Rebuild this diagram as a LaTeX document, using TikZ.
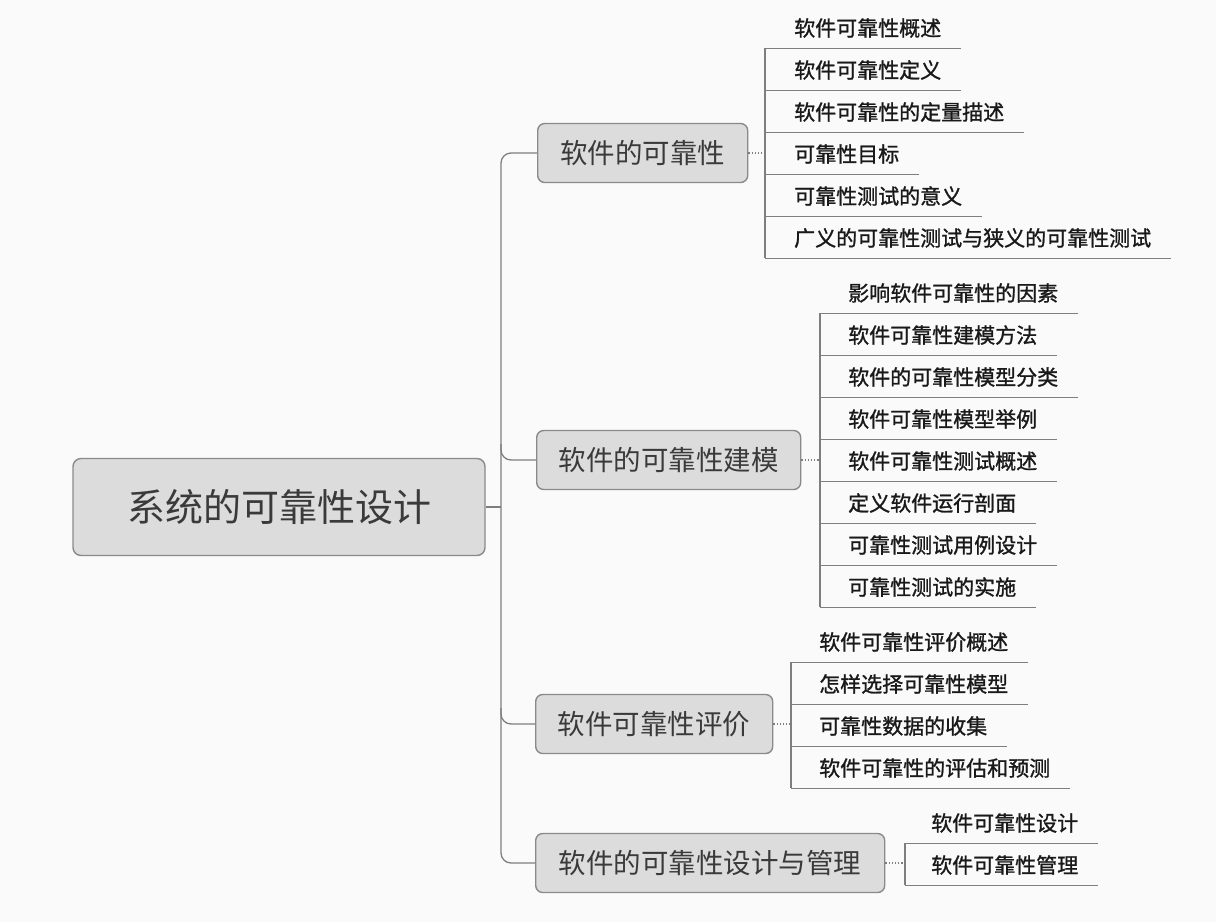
\documentclass[tikz,border=0pt]{standalone}
\usepackage{fontspec}
\newfontfamily\cjk{Noto Sans CJK SC}
\newfontfamily\cjkleaf[FakeBold=1.2]{Noto Sans CJK SC}
\definecolor{boxfill}{HTML}{DCDCDC}
\definecolor{boxdraw}{HTML}{8A8A8A}
\definecolor{linegray}{HTML}{7E7E7E}
\definecolor{txtdark}{HTML}{3A3A3A}
\definecolor{bg}{HTML}{FAFAFA}
\begin{document}
\begin{tikzpicture}[x=1pt,y=-1pt,
  rootbox/.style={draw=boxdraw,fill=boxfill,line width=1.4pt,rounded corners=8pt,minimum width=412pt,minimum height=97pt,inner sep=0pt,font=\cjk\fontsize{38}{40}\selectfont,text=txtdark},
  topic/.style={draw=boxdraw,fill=boxfill,line width=1.4pt,rounded corners=7pt,minimum height=59pt,inner sep=0pt,anchor=west,font=\cjk\fontsize{27.5}{30}\selectfont,text=txtdark},
  leaf/.style={anchor=west,inner sep=0pt,minimum height=40pt,font=\cjkleaf\fontsize{21}{23}\selectfont,text=black!90},
  trunk/.style={draw=linegray,line width=1.3pt,rounded corners=10pt},
  dotlink/.style={draw=linegray,line width=1.2pt,dotted},
  rule/.style={draw=linegray,line width=1.3pt}]
\fill[bg] (0,0) rectangle (1216,922);
\useasboundingbox (0,0) rectangle (1216,922);

% root
\node[rootbox] (root) at (279,507) {系统的可靠性设计};

% topics
\node[topic,minimum width=210pt] (ta) at (537,153) {软件的可靠性};
\node[topic,minimum width=264pt] (tb) at (536,460) {软件的可靠性建模};
\node[topic,minimum width=237pt] (tc) at (535,724) {软件可靠性评价};
\node[topic,minimum width=349pt] (td) at (535,863) {软件的可靠性设计与管理};

% trunk
\coordinate (tx) at (501,0);
\coordinate (bs) at (501,444);
\coordinate (cs) at (501,708);
\draw[rule] (root.east) -- (root.east -| tx);
\draw[trunk] (ta.west) -- (ta.west -| tx) -- (td.west -| tx) -- (td.west);
\draw[trunk] (bs) |- (tb.west);
\draw[trunk] (cs) |- (tc.west);

% list x positions
\coordinate (ax) at (765,0);
\coordinate (bx) at (820,0);
\coordinate (cx) at (791,0);
\coordinate (dx) at (905,0);

% group A
\foreach \t [count=\i] in {软件可靠性概述,软件可靠性定义,软件可靠性的定量描述,可靠性目标,可靠性测试的意义,广义的可靠性测试与狭义的可靠性测试}{
  \node[leaf] (a\i) at (794,{28+42*(\i-1)}) {\t};
  \draw[rule] (a\i.south -| ax) -- ([xshift=20pt]a\i.south east);
}
\draw[rule] (a1.south -| ax) -- (a6.south -| ax);
\draw[dotlink] (ta.east) -- (ta.east -| ax);

% group B
\foreach \t [count=\i] in {影响软件可靠性的因素,软件可靠性建模方法,软件的可靠性模型分类,软件可靠性模型举例,软件可靠性测试概述,定义软件运行剖面,可靠性测试用例设计,可靠性测试的实施}{
  \node[leaf] (b\i) at (848,{293+42*(\i-1)}) {\t};
  \draw[rule] (b\i.south -| bx) -- ([xshift=20pt]b\i.south east);
}
\draw[rule] (b1.south -| bx) -- (b8.south -| bx);
\draw[dotlink] (tb.east) -- (tb.east -| bx);

% group C
\foreach \t [count=\i] in {软件可靠性评价概述,怎样选择可靠性模型,可靠性数据的收集,软件可靠性的评估和预测}{
  \node[leaf] (c\i) at (819,{642+42*(\i-1)}) {\t};
  \draw[rule] (c\i.south -| cx) -- ([xshift=20pt]c\i.south east);
}
\draw[rule] (c1.south -| cx) -- (c4.south -| cx);
\draw[dotlink] (tc.east) -- (tc.east -| cx);

% group D
\foreach \t [count=\i] in {软件可靠性设计,软件可靠性管理}{
  \node[leaf] (d\i) at (931,{823+42*(\i-1)}) {\t};
  \draw[rule] (d\i.south -| dx) -- ([xshift=20pt]d\i.south east);
}
\draw[rule] (d1.south -| dx) -- (d2.south -| dx);
\draw[dotlink] (td.east) -- (td.east -| dx);
\end{tikzpicture}
\end{document}
